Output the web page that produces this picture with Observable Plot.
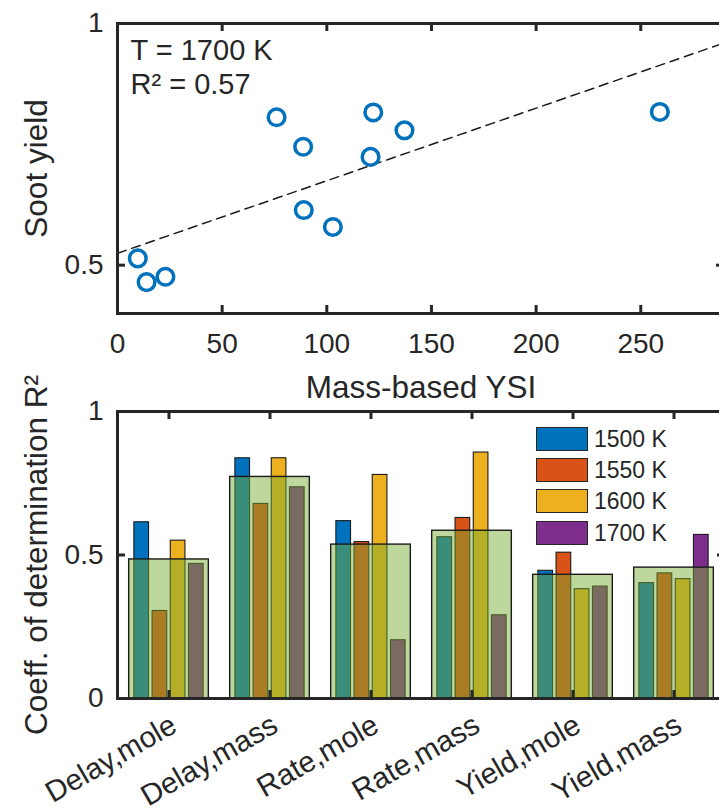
<!DOCTYPE html>
<html>
<head>
<meta charset="utf-8">
<script src="https://cdn.jsdelivr.net/npm/d3@7"></script>
<script src="https://cdn.jsdelivr.net/npm/@observablehq/plot@0.6"></script>
<style>
  html, body { margin: 0; padding: 0; background: #fff; overflow: hidden; }
  #wrap { position: relative; width: 719px; height: 810px; overflow: hidden; background: #fff; }
  #top { position: absolute; left: 0; top: 0; width: 726px; }
  #bottom { position: absolute; left: 0; top: 400px; width: 726px; }
  #wrap svg { max-width: none !important; }
  #legend { position: absolute; left: 536px; top: 427px; font-family: "Liberation Sans", Arial, sans-serif; color: #262626; }
  .item { position: relative; height: 31.2px; }
  .sw { position: absolute; left: 0; top: 0; width: 52px; height: 24px; box-sizing: border-box; border: 1.2px solid #262626; }
  .lab { position: absolute; left: 58px; top: 12px; transform: translateY(-50%); font-size: 23px; white-space: nowrap; line-height: 1; }
</style>
</head>
<body>
<div id="wrap"><div id="top"></div><div id="bottom"></div><div id="legend"></div></div>
<script>
// ---- Top panel data: soot yield vs mass-based YSI at 1700 K ----
const ysi = [76.0, 88.7, 89.0, 102.9, 9.7, 13.9, 22.9, 122.2, 137.1, 120.9, 259.1];
const sootYield = [0.806, 0.745, 0.614, 0.579, 0.514, 0.465, 0.476, 0.816, 0.779, 0.724, 0.817];
const annotationT = "T = 1700 K";
const xTicksTop = [0, 50, 100, 150, 200, 250];
const yTicksTop = [0.5, 1];
const xLabelTop = "Mass-based YSI";
const yLabelTop = "Soot yield";

// ---- Bottom panel data: coefficient of determination by metric & temperature ----
const categories = ["Delay,mole", "Delay,mass", "Rate,mole", "Rate,mass", "Yield,mole", "Yield,mass"];
const temps = ["1500 K", "1550 K", "1600 K", "1700 K"];
const r2At1500 = [0.614, 0.837, 0.618, 0.562, 0.445, 0.402];
const r2At1550 = [0.305, 0.678, 0.545, 0.629, 0.508, 0.436];
const r2At1600 = [0.550, 0.837, 0.779, 0.857, 0.381, 0.416];
const r2At1700 = [0.469, 0.736, 0.203, 0.290, 0.390, 0.570];
const yTicksBottom = [0, 0.5, 1];
const yLabelBottom = "Coeff. of determination R²";
const tempColors = ["#0072BD", "#D95319", "#EDB120", "#7E2F8E"];

// ---- common layout ----
const FONT = "'Liberation Sans', Arial, Helvetica, sans-serif";
const INK = "#262626";
const W = 726, ML = 117;

// ---- linear fit of top panel ----
const pts = ysi.map((x, i) => ({x, y: sootYield[i]}));
const mx = d3.mean(ysi), my = d3.mean(sootYield);
let sxx = 0, sxy = 0, syy = 0;
pts.forEach(p => { sxx += (p.x - mx) ** 2; sxy += (p.x - mx) * (p.y - my); syy += (p.y - my) ** 2; });
const slope = sxy / sxx, intercept = my - slope * mx, r2 = sxy * sxy / (sxx * syy);
const xDomainTop = [0, 290];
const fit = xDomainTop.map(x => ({x, y: intercept + slope * x}));

const H1 = 400, MT1 = 23, MB1 = 87, MR1 = 2;
const fh1 = H1 - MT1 - MB1, fw1 = W - ML - MR1;
const tk = {stroke: INK, strokeWidth: 3};
const baseStyle = {fontFamily: FONT, color: INK, background: "transparent", overflow: "visible", maxWidth: "none"};

const topPlot = Plot.plot({
  width: W, height: H1, marginLeft: ML, marginRight: MR1, marginTop: MT1, marginBottom: MB1,
  style: baseStyle,
  x: {domain: xDomainTop, label: null},
  y: {domain: [0.4, 1], label: null},
  marks: [
    Plot.line(fit, {x: "x", y: "y", stroke: "#1a1a1a", strokeWidth: 1.5, strokeDasharray: "9,6"}),
    Plot.dot(pts, {x: "x", y: "y", r: 8.3, stroke: "#0072BD", strokeWidth: 3.5, fill: "none"}),
    Plot.tickX(xTicksTop, {x: d => d, insetTop: fh1 - 8, ...tk}),
    Plot.tickX(xTicksTop, {x: d => d, insetBottom: fh1 - 8, ...tk}),
    Plot.tickY(yTicksTop, {y: d => d, insetRight: fw1 - 8, ...tk}),
    Plot.tickY(yTicksTop, {y: d => d, insetLeft: fw1 - 8, ...tk}),
    Plot.frame({stroke: INK, strokeWidth: 3}),
    Plot.axisX({ticks: xTicksTop, tickSize: 0, tickPadding: 20, fontSize: 28, tickFormat: d => String(d), label: null}),
    Plot.axisY({ticks: yTicksTop, tickSize: 0, tickPadding: 14, fontSize: 28, tickFormat: d => String(d), label: null}),
    Plot.text([annotationT + "\nR² = " + r2.toFixed(2)], {frameAnchor: "top-left", textAnchor: "start", lineAnchor: "top", dx: 13, dy: 12, fontSize: 29, lineHeight: 1.18, fill: INK}),
    Plot.text([xLabelTop], {frameAnchor: "bottom", textAnchor: "middle", lineAnchor: "bottom", dy: 84, fontSize: 31.5, fill: INK}),
    Plot.text([yLabelTop], {frameAnchor: "left", textAnchor: "middle", rotate: -90, lineAnchor: "bottom", dx: -70.5, fontSize: 31.5, fill: INK})
  ]
});
document.getElementById("top").appendChild(topPlot);

// ---- bottom panel ----
const series = [r2At1500, r2At1550, r2At1600, r2At1700];
const rows = categories.flatMap((c, i) => temps.map((t, j) => ({cat: c, temp: t, value: series[j][i]})));
const means = categories.map((c, i) => ({cat: c, mean: d3.mean(series, s => s[i])}));

const H2 = 410, MT2 = 11, MB2 = 112, MR2 = 1;
const fh2 = H2 - MT2 - MB2, fw2 = W - ML - MR2;
const bw = fw2 / categories.length;
const barW = 15, pitch = 18.2;
const m0 = (bw - (3 * pitch + barW)) / 2;

const barMarks = temps.map((t, j) => Plot.barY(rows.filter(d => d.temp === t), {
  x: "cat", y: "value", fill: "temp",
  insetLeft: m0 + j * pitch, insetRight: bw - m0 - j * pitch - barW,
  stroke: "#1a1a1a", strokeWidth: 1.1
}));

const bottomPlot = Plot.plot({
  width: W, height: H2, marginLeft: ML, marginRight: MR2, marginTop: MT2, marginBottom: MB2,
  style: baseStyle,
  x: {type: "band", domain: categories, padding: 0, label: null},
  y: {domain: [0, 1], label: null},
  color: {domain: temps, range: tempColors},
  marks: [
    ...barMarks,
    Plot.barY(means, {x: "cat", y: "mean", fill: "#77AC30", fillOpacity: 0.48, stroke: "#1a1a1a", strokeWidth: 1.4,
      insetLeft: (bw - 80) / 2, insetRight: (bw - 80) / 2}),
    Plot.tickX(categories, {x: d => d, insetTop: fh2 - 8, ...tk}),
    Plot.tickX(categories, {x: d => d, insetBottom: fh2 - 8, ...tk}),
    Plot.tickY([0.5], {y: d => d, insetRight: fw2 - 8, ...tk}),
    Plot.tickY([0.5], {y: d => d, insetLeft: fw2 - 8, ...tk}),
    Plot.frame({stroke: INK, strokeWidth: 3}),
    Plot.axisX({tickSize: 0, tickRotate: -30, tickPadding: 16, dx: 5, dy: 8, fontSize: 29.5, label: null}),
    Plot.axisY({ticks: yTicksBottom, tickSize: 0, tickPadding: 14, fontSize: 28, tickFormat: d => String(d), label: null}),
    Plot.text([yLabelBottom], {frameAnchor: "left", textAnchor: "middle", rotate: -90, lineAnchor: "bottom", dx: -70.5, fontSize: 31.5, fill: INK})
  ]
});
document.getElementById("bottom").appendChild(bottomPlot);

// ---- legend (colors from the plot's color scale) ----
const colorScale = bottomPlot.scale("color");
const legend = document.getElementById("legend");
temps.forEach(t => {
  const item = document.createElement("div"); item.className = "item";
  const sw = document.createElement("div"); sw.className = "sw"; sw.style.background = colorScale.apply(t);
  const lab = document.createElement("div"); lab.className = "lab"; lab.textContent = t;
  item.appendChild(sw); item.appendChild(lab); legend.appendChild(item);
});
</script>
</body>
</html>
